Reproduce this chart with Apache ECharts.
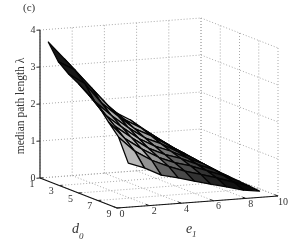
<!DOCTYPE html>
<html><head><meta charset="utf-8">
<style>html,body{margin:0;padding:0;background:#fff}#c{width:306px;height:242px}</style>
<script src="https://cdn.jsdelivr.net/npm/echarts@6/dist/echarts.min.js"></script>
</head><body><div id="c"></div>
<script>
const eValues = [0.7,1.7,2.75,3.8,4.8,5.8,6.8,7.85,8.85];
const dValues = [0.7,1.75,2.8,3.85,4.9,5.9,6.95,8,9];
const medianPathLength = [
 [3.62,3.13,2.58,1.98,1.60,1.35,1.02,0.69,0.33],
 [3.19,2.95,2.42,1.90,1.50,1.25,0.95,0.64,0.31],
 [2.97,2.68,2.12,1.72,1.36,1.14,0.87,0.60,0.30],
 [2.81,2.30,1.88,1.52,1.22,1.03,0.79,0.56,0.28],
 [2.62,2.05,1.68,1.34,1.10,0.93,0.72,0.52,0.26],
 [2.42,1.85,1.50,1.18,0.98,0.84,0.65,0.47,0.24],
 [2.09,1.62,1.30,1.04,0.86,0.74,0.58,0.41,0.22],
 [1.79,1.38,1.10,0.90,0.74,0.62,0.49,0.34,0.20],
 [1.19,1.03,0.80,0.69,0.57,0.46,0.35,0.23,0.17]
];
const eTicks = [0,2,4,6,8,10];
const dTicks = [1,3,5,7,9];
const zTicks = [0,1,2,3,4];
const eRange = [0,10], dRange = [1,9], zRange = [0,4];
const shadeStopsZ    = [0.2,0.36,0.6,0.88,1.09,1.4,2.0,2.3,2.8];
const shadeStopsGray = [8,  18,  50, 100, 150, 190,165,60, 22];

function project(e,d,z){
  return [40+16.1*e+9.625*(d-1), 178-1.2*e+3.75*(d-1)-37*z];
}
const gridSegs = [];
eTicks.forEach(e=>{
  gridSegs.push([e,dRange[0],zRange[0],e,dRange[0],zRange[1]]);
  gridSegs.push([e,dRange[0],zRange[0],e,dRange[1],zRange[0]]);
});
dTicks.forEach(d=>{
  gridSegs.push([eRange[1],d,zRange[0],eRange[1],d,zRange[1]]);
  gridSegs.push([eRange[0],d,zRange[0],eRange[1],d,zRange[0]]);
});
zTicks.forEach(z=>{
  gridSegs.push([eRange[0],dRange[0],z,eRange[1],dRange[0],z]);
  gridSegs.push([eRange[1],dRange[0],z,eRange[1],dRange[1],z]);
});
const cells = [];
for(let i=0;i<dValues.length-1;i++){
  for(let j=eValues.length-2;j>=0;j--){ cells.push([i,j]); }
}
function shade(z){
  let g = shadeStopsGray[shadeStopsGray.length-1];
  if(z<=shadeStopsZ[0]) g=shadeStopsGray[0];
  else for(let k=1;k<shadeStopsZ.length;k++){
    if(z<=shadeStopsZ[k]){
      const t=(z-shadeStopsZ[k-1])/(shadeStopsZ[k]-shadeStopsZ[k-1]);
      g=shadeStopsGray[k-1]+t*(shadeStopsGray[k]-shadeStopsGray[k-1]);
      break;
    }
  }
  g=Math.round(g);
  return 'rgb('+g+','+g+','+g+')';
}
const axisSegs = [
  {s:[eRange[0],dRange[0],zRange[0],eRange[0],dRange[0],zRange[1]],c:'#555',w:1.6},
  {s:[eRange[0],dRange[0],zRange[0],eRange[0],dRange[1],zRange[0]],c:'#111',w:1.2},
  {s:[eRange[0],dRange[1],zRange[0],eRange[1],dRange[1],zRange[0]],c:'#111',w:1.2}
];
zTicks.forEach(z=>axisSegs.push({s:[eRange[0],dRange[0],z,-0.22,dRange[0],z],c:'#222',w:1}));
dTicks.forEach(d=>axisSegs.push({s:[eRange[0],d,zRange[0],0.2,d,zRange[0]],c:'#222',w:1}));
eTicks.forEach(e=>axisSegs.push({s:[e,dRange[1],zRange[0],e,dRange[1]-0.35,zRange[0]],c:'#222',w:1}));
const tickLabels = [];
zTicks.forEach(z=>{const p=project(eRange[0],dRange[0],z);tickLabels.push([p[0]-7,p[1],String(z)]);});
dTicks.forEach(d=>{const p=project(eRange[0],d,zRange[0]);tickLabels.push([p[0]-8,p[1]+6,String(d)]);});
eTicks.forEach(e=>{const p=project(e,dRange[1],zRange[0]);tickLabels.push([p[0]+5,p[1]+6,String(e)]);});

const FONT = '"Liberation Serif","Times New Roman",serif';
const chart = echarts.init(document.getElementById('c'),null,{renderer:'canvas'});
function seg(api,s){
  const a=api.coord(project(s[0],s[1],s[2])), b=api.coord(project(s[3],s[4],s[5]));
  return {x1:a[0],y1:a[1],x2:b[0],y2:b[1]};
}
chart.setOption({
  animation:false,
  grid:{left:0,right:0,top:0,bottom:0},
  xAxis:{type:'value',min:0,max:306,show:false},
  yAxis:{type:'value',min:0,max:242,inverse:true,show:false},
  graphic:[
    {type:'text',left:23,top:3,style:{text:'(c)',font:'11px '+FONT,fill:'#333'}},
    {type:'text',x:21,y:106,rotation:Math.PI/2,style:{text:'median path length λ',font:'11.5px '+FONT,fill:'#333',align:'center',verticalAlign:'middle'}},
    {type:'text',left:72,top:222,style:{text:'d',font:'italic 14px '+FONT,fill:'#333'}},
    {type:'text',left:79,top:232,style:{text:'0',font:'italic 9px '+FONT,fill:'#333'}},
    {type:'text',left:186,top:222,style:{text:'e',font:'italic 14px '+FONT,fill:'#333'}},
    {type:'text',left:192,top:230,style:{text:'1',font:'italic 9px '+FONT,fill:'#333'}}
  ],
  series:[
    {type:'custom',coordinateSystem:'cartesian2d',silent:true,clip:false,data:gridSegs,
     renderItem:(p,api)=>{
       const s=gridSegs[p.dataIndex];
       return {type:'line',shape:seg(api,s),style:{stroke:'#a8a8a8',lineWidth:1,lineDash:[1,2],fill:null}};
     }},
    {type:'custom',coordinateSystem:'cartesian2d',silent:true,clip:false,data:cells,
     renderItem:(p,api)=>{
       const [i,j]=cells[p.dataIndex];
       const q=[[i,j],[i,j+1],[i+1,j+1],[i+1,j]];
       const pts=q.map(([a,b])=>api.coord(project(eValues[b],dValues[a],medianPathLength[a][b])));
       const zm=q.reduce((t,[a,b])=>t+medianPathLength[a][b],0)/4;
       return {type:'polygon',shape:{points:pts},style:{fill:shade(zm),stroke:'#050505',lineWidth:1.3,lineJoin:'round'}};
     }},
    {type:'custom',coordinateSystem:'cartesian2d',silent:true,clip:false,data:axisSegs.map((a,i)=>[i]),
     renderItem:(p,api)=>{
       const a=axisSegs[p.dataIndex];
       return {type:'line',shape:seg(api,a.s),style:{stroke:a.c,lineWidth:a.w,fill:null}};
     }},
    {type:'custom',coordinateSystem:'cartesian2d',silent:true,clip:false,data:tickLabels,
     renderItem:(p,api)=>{
       const t=tickLabels[p.dataIndex];
       const c=api.coord([t[0],t[1]]);
       return {type:'text',x:c[0],y:c[1],style:{text:t[2],font:'10px '+FONT,fill:'#333',align:'center',verticalAlign:'middle'}};
     }}
  ]
});
</script></body></html>
